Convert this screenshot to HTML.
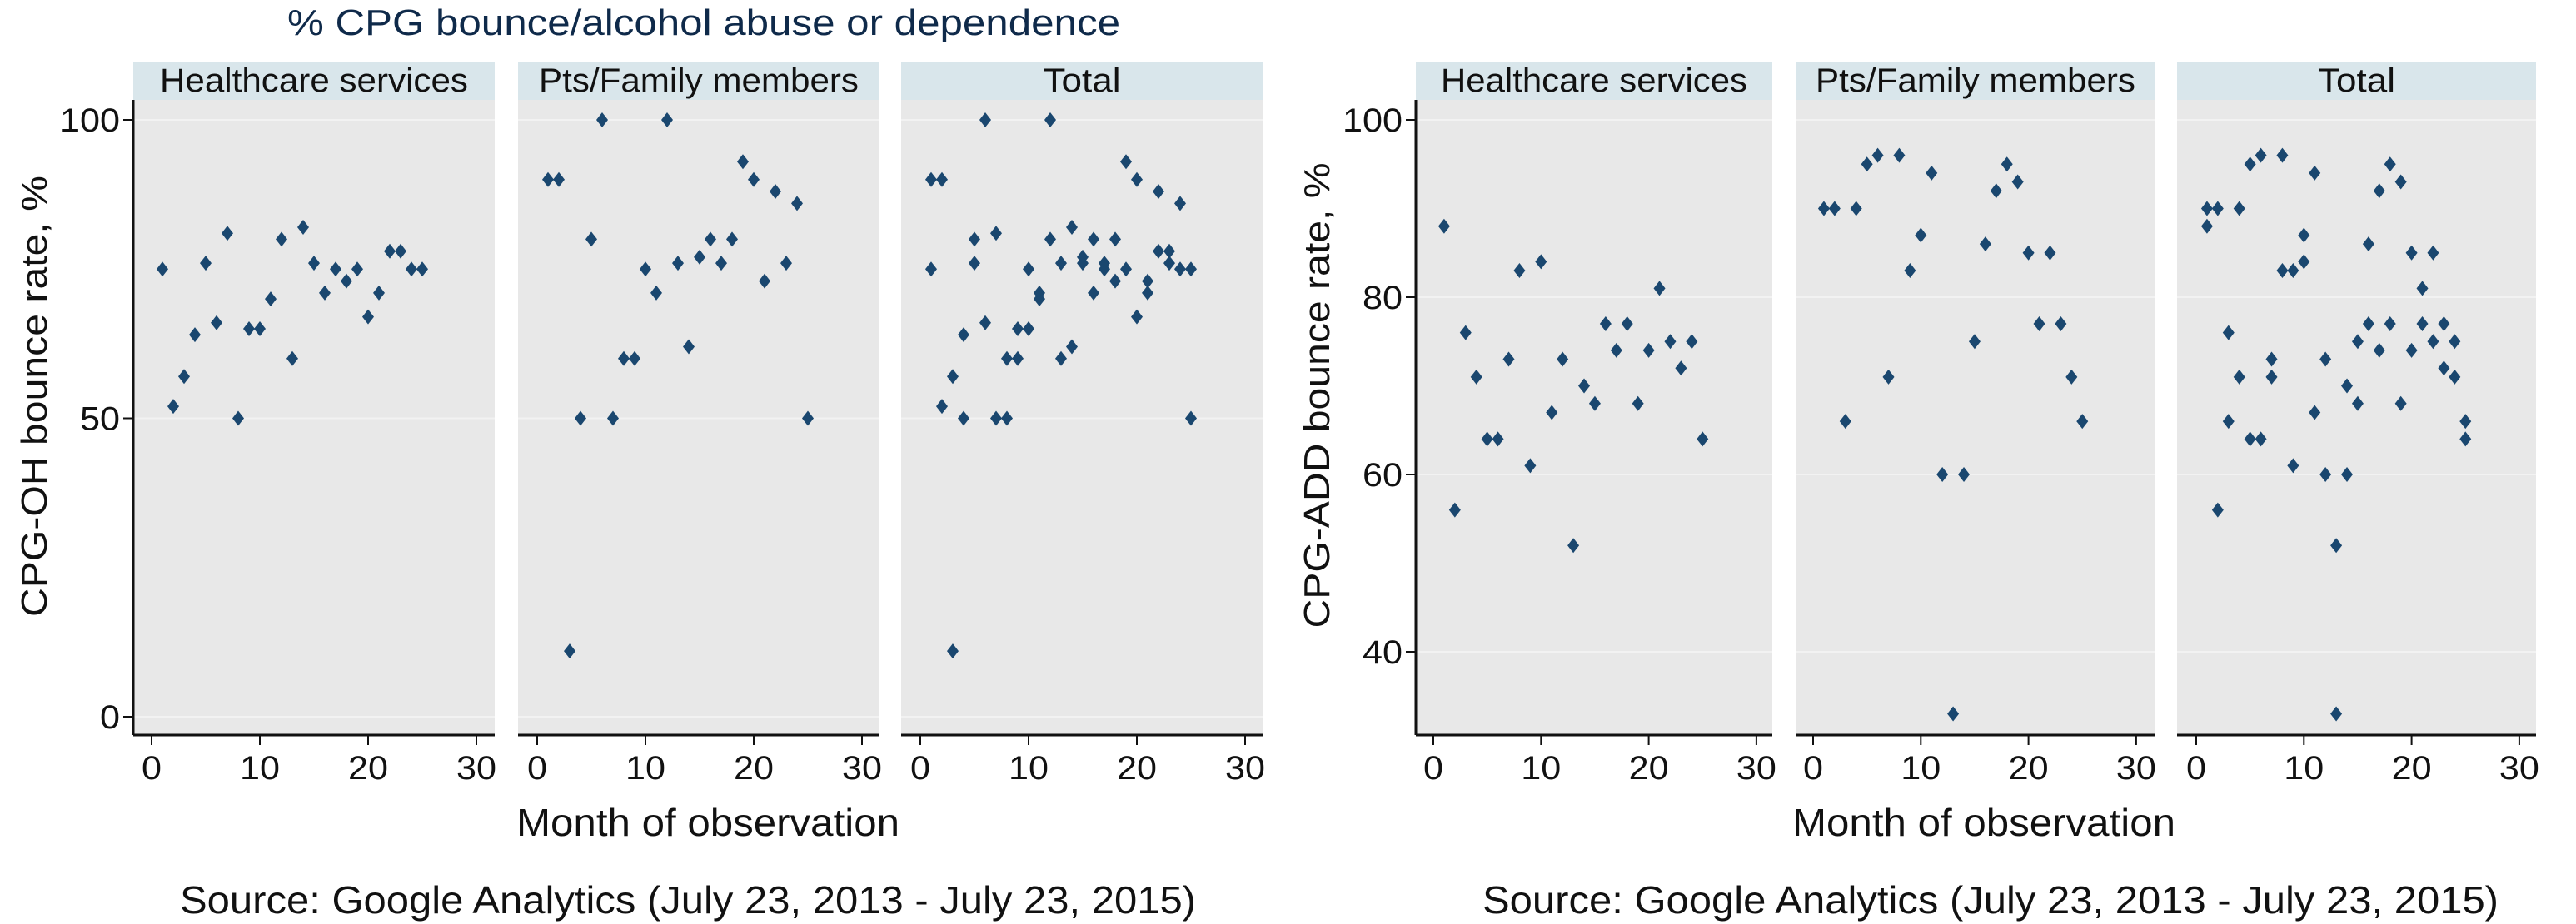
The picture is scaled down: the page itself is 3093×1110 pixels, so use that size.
<!DOCTYPE html>
<html><head><meta charset="utf-8">
<style>
html,body{margin:0;padding:0;background:#fff;}
svg{display:block;font-family:"Liberation Sans",sans-serif;}
</style></head>
<body>
<svg id="chart" width="3093" height="1110" viewBox="0 0 3093 1110" xmlns="http://www.w3.org/2000/svg"></svg>
<script>
// ---- Data (month of observation -> bounce rate %) ----
const ohMonths = [1,2,3,4,5,6,7,8,9,10,11,12,13,14,15,16,17,18,19,20,21,22,23,24,25];
const ohHealthcare = [75,52,57,64,76,66,81,50,65,65,70,80,60,82,76,71,75,73,75,67,71,78,78,75,75];
const ohFamily = [90,90,11,50,80,100,50,60,60,75,71,100,76,62,77,80,76,80,93,90,73,88,76,86,50];
const addMonths = [1,2,3,4,5,6,7,8,9,10,11,12,13,14,15,16,17,18,19,20,21,22,23,24,25];
const addHealthcare = [88,56,76,71,64,64,73,83,61,84,67,73,52,70,68,77,74,77,68,74,81,75,72,75,64];
const addFamily = [90,90,66,90,95,96,71,96,83,87,94,60,33,60,75,86,92,95,93,85,77,85,77,71,66];
const xTicks = [0,10,20,30];
const ohYTicks = [0,50,100];
const addYTicks = [40,60,80,100];
const panelTitles = ["Healthcare services","Pts/Family members","Total"];

const NS = "http://www.w3.org/2000/svg";
const svg = document.getElementById("chart");
function mk(tag, attrs, parent){
  const e = document.createElementNS(NS, tag);
  for (const k in attrs) e.setAttribute(k, attrs[k]);
  (parent||svg).appendChild(e);
  return e;
}

function drawChart(cfg){
  const g = mk("g", {});
  
  
  const yScale = v => cfg.y0px + (v - cfg.y0v) * (cfg.y1px - cfg.y0px) / (cfg.y1v - cfg.y0v);
  const seriesSets = [
    [[cfg.months, cfg.hc]],
    [[cfg.months, cfg.fam]],
    [[cfg.months, cfg.hc],[cfg.months, cfg.fam]]
  ];
  cfg.panels.forEach((p, i) => {
    const xScale = m => p.x0 + m * cfg.unit;
    const pg = mk("g", {}, g);
    
    
    const bg = mk("rect", {x:p.l, y:120, width:p.r-p.l, height:762, fill:"#e8e8e8"}, pg);
    
    
    const strip = mk("rect", {x:p.l, y:74, width:p.r-p.l, height:46, fill:"#d9e6eb"}, pg);
    
    
    const st = mk("text", {x:(p.l+p.r)/2, y:110, "text-anchor":"middle", "font-size":40, fill:"#111",
      textLength: cfg.stripW[i], lengthAdjust:"spacingAndGlyphs"}, pg);
    st.textContent = panelTitles[i];
    
    
    cfg.yTicks.forEach(t => {
      const gl = mk("line", {x1:p.l, x2:p.r, y1:yScale(t), y2:yScale(t), stroke:"#f2f2f2", "stroke-width":2}, pg);
      
      
    });
    const ax = mk("line", {x1:p.l, x2:p.r, y1:883, y2:883, stroke:"#111", "stroke-width":3}, pg);
    
    
    xTicks.forEach(t => {
      const tk = mk("line", {x1:xScale(t), x2:xScale(t), y1:883, y2:895, stroke:"#111", "stroke-width":2}, pg);
      
      
      const tl = mk("text", {x:xScale(t), y:936, "text-anchor":"middle", "font-size":40, fill:"#111",
        textLength: (String(t).length*24), lengthAdjust:"spacingAndGlyphs"}, pg);
      tl.textContent = t;
      
      
    });
    seriesSets[i].forEach(([ms, vs]) => {
      ms.forEach((m, k) => {
        const cx = xScale(m), cy = yScale(vs[k]);
        const d = mk("polygon", {points:`${cx},${cy-9} ${cx+7},${cy} ${cx},${cy+9} ${cx-7},${cy}`, fill:"#1a476f"}, pg);
        
        
      });
    });
  });
  const l = cfg.panels[0].l;
  const ya = mk("line", {x1:l, x2:l, y1:120, y2:883, stroke:"#111", "stroke-width":3}, g);
  
  
  cfg.yTicks.forEach(t => {
    const tk = mk("line", {x1:l-12, x2:l, y1:yScale(t), y2:yScale(t), stroke:"#111", "stroke-width":2}, g);
    
    
    const tl = mk("text", {x:l-16, y:yScale(t)+14, "text-anchor":"end", "font-size":40, fill:"#111",
      textLength:(String(t).length*24), lengthAdjust:"spacingAndGlyphs"}, g);
    tl.textContent = t;
    
    
  });
  const yt = mk("text", {x:0, y:0, "text-anchor":"middle", "font-size":44, fill:"#111",
    transform:`translate(${cfg.ytX},${cfg.ytY}) rotate(-90)`, textLength:cfg.ytW, lengthAdjust:"spacingAndGlyphs"}, g);
  yt.textContent = cfg.yTitle;
  
  
  const xt = mk("text", {x:cfg.xtX, y:1004, "text-anchor":"middle", "font-size":46, fill:"#111",
    textLength:460, lengthAdjust:"spacingAndGlyphs"}, g);
  xt.textContent = "Month of observation";
  
  
  const src = mk("text", {x:cfg.srcX, y:1097, "font-size":46, fill:"#111",
    textLength:1220, lengthAdjust:"spacingAndGlyphs"}, g);
  src.textContent = "Source: Google Analytics (July 23, 2013 - July 23, 2015)";
  
  
}

drawChart({
  name:"oh-chart", months:ohMonths, hc:ohHealthcare, fam:ohFamily, yTicks:ohYTicks,
  y0v:0, y0px:861, y1v:100, y1px:144, unit:13,
  panels:[{l:160,r:594,x0:182},{l:622,r:1056,x0:645},{l:1082,r:1516,x0:1105}],
  stripW:[370,384,93], yTitle:"CPG-OH bounce rate, %", ytX:56, ytY:476, ytW:530,
  xtX:850, srcX:216
});
drawChart({
  name:"add-chart", months:addMonths, hc:addHealthcare, fam:addFamily, yTicks:addYTicks,
  y0v:40, y0px:783, y1v:100, y1px:144, unit:12.93,
  panels:[{l:1700,r:2128,x0:1721},{l:2157,r:2587,x0:2177},{l:2614,r:3045,x0:2637}],
  stripW:[368,384,93], yTitle:"CPG-ADD bounce rate, %", ytX:1596, ytY:475, ytW:559,
  xtX:2382, srcX:1780
});

const title = mk("text", {x:845, y:42, "text-anchor":"middle", "font-size":44, fill:"#0f2a4a",
  textLength:1000, lengthAdjust:"spacingAndGlyphs"});
title.textContent = "% CPG bounce/alcohol abuse or dependence";


</script>
</body></html>
